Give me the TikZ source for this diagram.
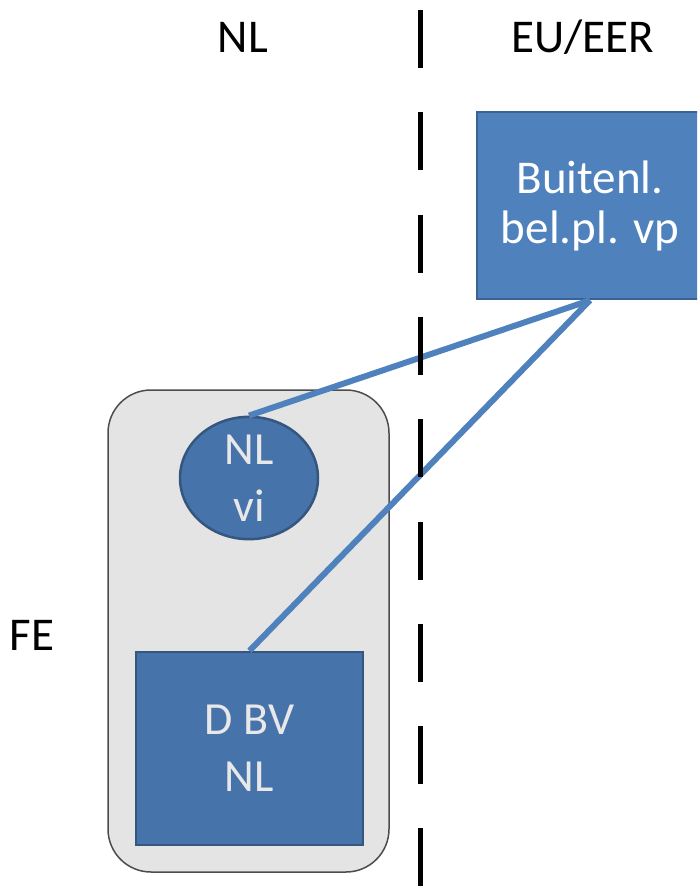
\documentclass[tikz,border=0pt]{standalone}
\usepackage{fontspec}
\setmainfont{Carlito}
\usetikzlibrary{shapes.geometric}
\definecolor{vpblue}{HTML}{4F81BD}
\definecolor{vpblueedge}{HTML}{3A6293}
\definecolor{feblue}{HTML}{4773AB}
\definecolor{feblueedge}{HTML}{35567F}
\definecolor{fegray}{HTML}{E4E4E4}
\definecolor{fetext}{HTML}{E8E8E8}

\begin{document}
\begin{tikzpicture}[x=1pt,y=-1pt,
  every node/.style={inner sep=0pt,align=center},
  kop/.style={font=\fontsize{47}{54}\selectfont},
  blok/.style={draw=feblueedge,line width=2.5pt,fill=feblue,text=fetext,font=\fontsize{46}{57}\selectfont},
  lijn/.style={draw=vpblue,line width=6pt}]
  \useasboundingbox (0,0) rectangle (697,887);
  \clip (0,0) rectangle (697,887);
  \path (243,37) node[kop] (nl) {NL} (583,37) node[kop] (eu) {EU/EER}
  (32,635) node[kop] (fe) {FE};
  \node[draw=gray!60!black,line width=1.5pt,fill=fegray,rounded corners=43pt,
    minimum width=281pt,minimum height=482pt] (groep) at (248.5,631) {};
  \node[blok,draw=vpblueedge,fill=vpblue,text=white,minimum width=226pt,minimum height=187pt,
    font=\fontsize{47}{50}\selectfont] (vp) at (590,205.5) {Buitenl.\\bel.pl. vp};
  \path (249,478) node[blok,ellipse,minimum width=138pt,minimum height=120pt] (vi) {NL\\vi}
  (249.5,748.5) node[blok,minimum width=227pt,minimum height=193pt] (dbv) {D BV\\NL};
  \draw[lijn] (vp.south) -- (vi.north) (vp.south) -- (dbv.north);
  \draw[line width=5pt,dash pattern=on 58pt off 44.3pt,dash phase=-10pt] (420,0) -- (420,887);
\end{tikzpicture}
\end{document}
